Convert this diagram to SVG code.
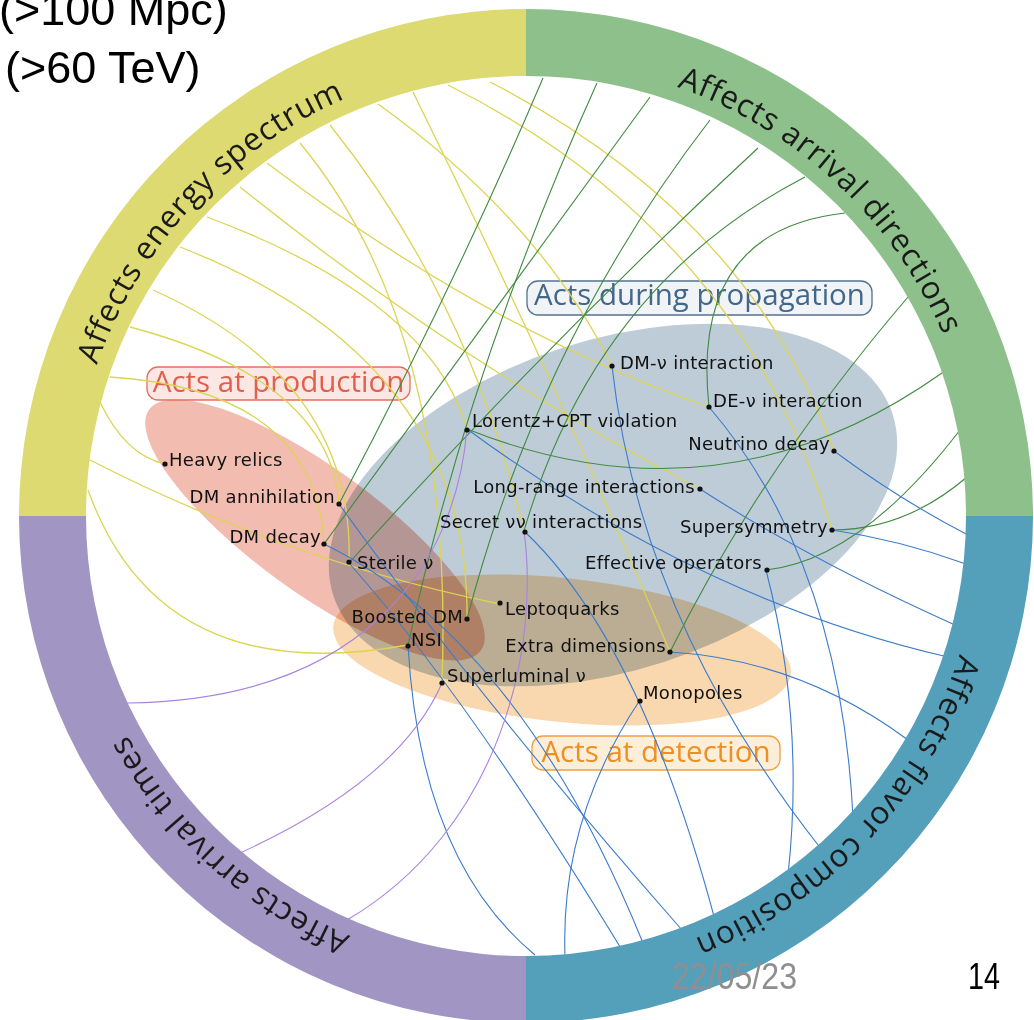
<svg xmlns="http://www.w3.org/2000/svg" width="1034" height="1020" viewBox="0 0 1034 1020">
<style>
.lbl{font-family:"DejaVu Sans",sans-serif;font-size:18px;letter-spacing:0.3px;fill:#111}
.dot{fill:#111}
.ring-t{font-family:"Open Sans",sans-serif;font-size:31.5px;letter-spacing:0.8px;fill:#1a1a1a}
.y{fill:none;stroke:#DDD452;stroke-width:1.3}
.g{fill:none;stroke:#3F8A3F;stroke-width:1.1}
.b{fill:none;stroke:#3B7BCB;stroke-width:1.1}
.p{fill:none;stroke:#A982E0;stroke-width:1.1}
.reg{mix-blend-mode:multiply}
.cat{font-family:"Open Sans",sans-serif;font-size:29.5px;text-anchor:middle}
.slide{font-family:"Liberation Sans",Arial,sans-serif}
</style>
<defs>
<path id="arcTL" d="M90.9,649 A455,455 0 0 1 628.4,72.7"/>
<path id="arcTR" d="M393,80.9 A455,455 0 0 1 969.3,618.4"/>
<path id="arcBR" d="M961.1,383 A455,455 0 0 1 423.6,959.4"/>
<path id="arcBL" d="M666.6,948.8 A455,455 0 0 1 81,421.4"/>
</defs>
<rect width="1034" height="1020" fill="#fff"/>

<g id="regions">
<ellipse class="reg" cx="613" cy="505" rx="294" ry="165" transform="rotate(-18 613 505)" fill="#BECCD8"/>
<ellipse class="reg" cx="562" cy="650" rx="230" ry="72" transform="rotate(6 562 650)" fill="#FAD8AF"/>
<ellipse class="reg" cx="315" cy="530" rx="205" ry="62" transform="rotate(36 315 530)" fill="#F2BCB0"/>
</g>

<g id="cat-production">
<rect x="147" y="367" width="263" height="33" rx="11" fill="#FBE3DF" fill-opacity="0.85" stroke="#E4705F" stroke-width="1.3"/>
<text class="cat" x="278.5" y="392" fill="#E0604C">Acts at production</text>
</g>
<g id="cat-propagation">
<rect x="527" y="281" width="345" height="34" rx="11" fill="#EEF2F6" fill-opacity="0.85" stroke="#53728F" stroke-width="1.3"/>
<text class="cat" x="699.5" y="305" fill="#43678A">Acts during propagation</text>
</g>
<g id="cat-detection">
<rect x="532" y="736" width="248" height="34" rx="11" fill="#FDEBD3" fill-opacity="0.85" stroke="#F0A040" stroke-width="1.3"/>
<text class="cat" x="656" y="762" fill="#EE9020">Acts at detection</text>
</g>

<g id="connectors">
<!-- energy spectrum (yellow) -->
<path class="y" d="M834,451 Q748,214 490,82"/>
<path class="y" d="M832,530 Q740,230 448,85"/>
<path class="y" d="M670,652 Q555,380 413,92"/>
<path class="y" d="M612,366 Q540,220 378,104"/>
<path class="y" d="M524,531 Q470,300 330,125"/>
<path class="y" d="M442,683 Q455,330 300,143"/>
<path class="y" d="M709,407 Q488,331 267,163"/>
<path class="y" d="M700,489 Q465,368 240,187"/>
<path class="y" d="M467,429 Q430,300 207,217"/>
<path class="y" d="M467,619 Q470,360 180,247"/>
<path class="y" d="M349,563 Q355,380 153,290"/>
<path class="y" d="M339,504 Q330,380 130,327"/>
<path class="y" d="M324,544 Q315,390 110,377"/>
<path class="y" d="M165,464 Q125,455 100,402"/>
<path class="y" d="M500,604 Q285,560 90,460"/>
<path class="y" d="M408,645 Q160,690 88,490"/>
<!-- arrival directions (green) -->
<path class="g" d="M339,504 Q455,285 543,78"/>
<path class="g" d="M408,645 Q470,364 597,83"/>
<path class="g" d="M324,544 Q487,320 650,97"/>
<path class="g" d="M467,619 Q540,340 710,120"/>
<path class="g" d="M349,563 Q545,345 758,148"/>
<path class="g" d="M524,531 Q595,286 805,177"/>
<path class="g" d="M709,407 Q690,230 845,213"/>
<path class="g" d="M670,652 Q760,470 908,297"/>
<path class="g" d="M467,429 Q720,530 942,373"/>
<path class="g" d="M766,570 Q860,560 960,430"/>
<path class="g" d="M832,530 Q905,530 967,477"/>
<!-- flavor composition (blue) -->
<path class="b" d="M834,451 Q900,500 968,535"/>
<path class="b" d="M832,530 Q900,540 966,564"/>
<path class="b" d="M700,489 Q810,560 955,625"/>
<path class="b" d="M467,429 Q700,600 948,657"/>
<path class="b" d="M670,652 Q800,660 908,740"/>
<path class="b" d="M709,407 Q840,560 853,817"/>
<path class="b" d="M612,366 Q640,620 822,850"/>
<path class="b" d="M766,570 Q805,720 788,875"/>
<path class="b" d="M524,531 Q640,640 715,920"/>
<path class="b" d="M640,700 Q560,820 565,956"/>
<path class="b" d="M408,645 Q420,860 535,955"/>
<path class="b" d="M339,504 Q480,700 682,930"/>
<path class="b" d="M324,544 Q520,640 643,943"/>
<path class="b" d="M349,563 Q470,700 622,950"/>
<!-- arrival times (purple) -->
<path class="p" d="M467,429 C455,570 360,700 127,703"/>
<path class="p" d="M442,683 Q400,780 240,853"/>
<path class="p" d="M524,531 C540,650 500,830 347,920"/>
</g>

<g id="node-heavy-relics"><circle class="dot" cx="165" cy="464" r="2.6"/><text class="lbl" x="169" y="466">Heavy relics</text></g>
<g id="node-dm-annihilation"><circle class="dot" cx="339" cy="504" r="2.6"/><text class="lbl" x="335" y="503" text-anchor="end">DM annihilation</text></g>
<g id="node-dm-decay"><circle class="dot" cx="324" cy="544" r="2.6"/><text class="lbl" x="321" y="543" text-anchor="end">DM decay</text></g>
<g id="node-sterile"><circle class="dot" cx="349" cy="562" r="2.6"/><text class="lbl" x="357" y="569">Sterile ν</text></g>
<g id="node-lorentz"><circle class="dot" cx="467" cy="430" r="2.6"/><text class="lbl" x="472" y="427">Lorentz+CPT violation</text></g>
<g id="node-dm-nu"><circle class="dot" cx="612" cy="366" r="2.6"/><text class="lbl" x="620" y="369">DM-ν interaction</text></g>
<g id="node-de-nu"><circle class="dot" cx="709" cy="407" r="2.6"/><text class="lbl" x="713" y="407">DE-ν interaction</text></g>
<g id="node-nu-decay"><circle class="dot" cx="834" cy="451" r="2.6"/><text class="lbl" x="830" y="450" text-anchor="end">Neutrino decay</text></g>
<g id="node-long-range"><circle class="dot" cx="700" cy="489" r="2.6"/><text class="lbl" x="695" y="493" text-anchor="end">Long-range interactions</text></g>
<g id="node-secret"><circle class="dot" cx="525" cy="532" r="2.6"/><text class="lbl" x="440" y="528">Secret νν interactions</text></g>
<g id="node-susy"><circle class="dot" cx="832" cy="530" r="2.6"/><text class="lbl" x="828" y="533" text-anchor="end">Supersymmetry</text></g>
<g id="node-eff-op"><circle class="dot" cx="767" cy="570" r="2.6"/><text class="lbl" x="762" y="569" text-anchor="end">Effective operators</text></g>
<g id="node-leptoquarks"><circle class="dot" cx="500" cy="603" r="2.6"/><text class="lbl" x="505" y="615">Leptoquarks</text></g>
<g id="node-boosted-dm"><circle class="dot" cx="467" cy="619" r="2.6"/><text class="lbl" x="463" y="623" text-anchor="end">Boosted DM</text></g>
<g id="node-nsi"><circle class="dot" cx="408" cy="646" r="2.6"/><text class="lbl" x="411" y="646">NSI</text></g>
<g id="node-extra-dim"><circle class="dot" cx="670" cy="652" r="2.6"/><text class="lbl" x="666" y="652" text-anchor="end">Extra dimensions</text></g>
<g id="node-superluminal"><circle class="dot" cx="442" cy="683" r="2.6"/><text class="lbl" x="447" y="682">Superluminal ν</text></g>
<g id="node-monopoles"><circle class="dot" cx="640" cy="701" r="2.6"/><text class="lbl" x="643" y="699">Monopoles</text></g>

<g id="ring">
<path d="M19,516 A507,507 0 0 1 526,9 L526,76 A440,440 0 0 0 86,516 Z" fill="#DDDA72"/>
<path d="M526,9 A507,507 0 0 1 1033,516 L966,516 A440,440 0 0 0 526,76 Z" fill="#8DC08B"/>
<path d="M1033,516 A507,507 0 0 1 526,1023 L526,956 A440,440 0 0 0 966,516 Z" fill="#549FBA"/>
<path d="M526,1023 A507,507 0 0 1 19,516 L86,516 A440,440 0 0 0 526,956 Z" fill="#A095C3"/>
<text class="ring-t"><textPath href="#arcTL" startOffset="50%" text-anchor="middle">Affects energy spectrum</textPath></text>
<text class="ring-t"><textPath href="#arcTR" startOffset="50%" text-anchor="middle">Affects arrival directions</textPath></text>
<text class="ring-t"><textPath href="#arcBR" startOffset="50%" text-anchor="middle">Affects flavor composition</textPath></text>
<text class="ring-t"><textPath href="#arcBL" startOffset="50%" text-anchor="middle">Affects arrival times</textPath></text>
</g>

<g id="slide-text">
<text class="slide" x="-1" y="25" font-size="45" fill="#000">(&gt;100 Mpc)</text>
<text class="slide" x="5" y="83" font-size="45" fill="#000">(&gt;60 TeV)</text>
<text class="slide" x="672" y="989" font-size="36" fill="#8F8F8F" textLength="125" lengthAdjust="spacingAndGlyphs">22/05/23</text>
<text class="slide" x="968" y="989" font-size="36" fill="#000" textLength="32" lengthAdjust="spacingAndGlyphs">14</text>
</g>
</svg>
